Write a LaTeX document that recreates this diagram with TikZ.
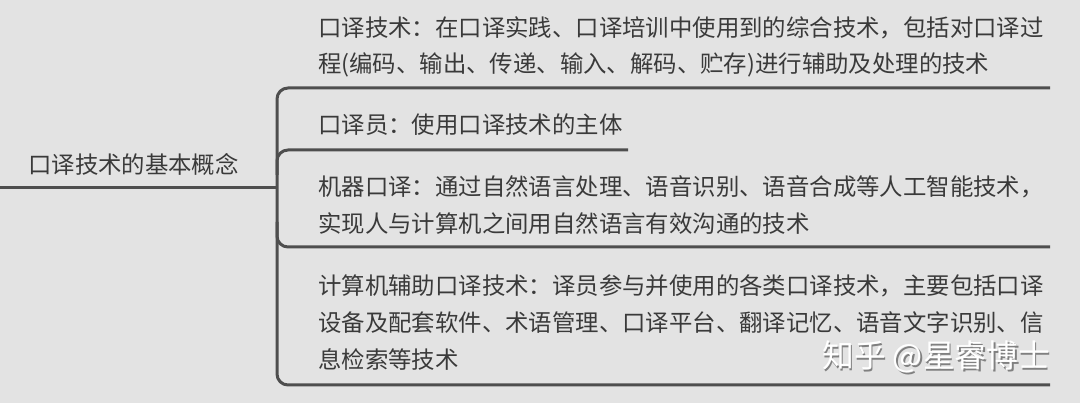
\documentclass[tikz,border=0pt]{standalone}
\usepackage{fontspec}
\setmainfont{Noto Sans CJK SC}
\newfontfamily\cjk{Noto Sans CJK SC}
\definecolor{bgc}{HTML}{E3E3E3}
\definecolor{linec}{HTML}{4E4E4E}
\definecolor{txtc}{HTML}{3A3A3A}
\begin{document}
\begin{tikzpicture}[x=1pt,y=-1pt,
  conn/.style={draw=linec,line width=3pt,rounded corners=11pt},
  txt/.style={anchor=base west,inner sep=0pt,text=txtc,font=\cjk\fontsize{23.4}{36}\selectfont},
  wm/.style={anchor=base west,inner sep=0pt,font=\cjk\fontsize{31.8}{32}\selectfont}]
\useasboundingbox (0,0) rectangle (1080,403);
\fill[bgc] (0,0) rectangle (1080,403);
% root
\node[txt] (root) at (28,174) {口译技术的基本概念};
\coordinate (rs) at (0,188);
\coordinate (j) at (277,188);
% children text
\node[txt] (c1a) at (318,37) {口译技术：在口译实践、口译培训中使用到的综合技术，包括对口译过};
\node[txt] (c1b) at (318,73) {程(编码、输出、传递、输入、解码、贮存)进行辅助及处理的技术};
\node[txt] (c2) at (318,134) {口译员：使用口译技术的主体};
\node[txt] (c3a) at (318,196) {机器口译：通过自然语言处理、语音识别、语音合成等人工智能技术，};
\node[txt] (c3b) at (318,233) {实现人与计算机之间用自然语言有效沟通的技术};
\node[txt] (c4a) at (318,295) {计算机辅助口译技术：译员参与并使用的各类口译技术，主要包括口译};
\node[txt] (c4b) at (318,332) {设备及配套软件、术语管理、口译平台、翻译记忆、语音文字识别、信};
\node[txt] (c4c) at (318,369) {息检索等技术};
% underline coordinates
\coordinate (u1s) at (277,88);  \coordinate (u1e) at (1050,88);
\coordinate (u2s) at (277,150); \coordinate (u2e) at (628,150);
\coordinate (u3s) at (277,247); \coordinate (u3e) at (1050,247);
\coordinate (u4s) at (277,385); \coordinate (u4e) at (1050,385);
\coordinate (v2) at (277,175);
\coordinate (v3) at (277,222);
% connectors
\draw[conn] (rs) -- (j);
\draw[conn] (u1e) -- (u1s) -- (u4s) -- (u4e);
\draw[conn] (v2) -- (u2s) -- (u2e);
\draw[conn] (v3) -- (u3s) -- (u3e);
% watermark
\node[wm,text=black!50] (wms) at (823.5,369.5) {知乎 @星睿博士};
\node[wm,text=white] (wmt) at (822,368) {知乎 @星睿博士};
\end{tikzpicture}
\end{document}
